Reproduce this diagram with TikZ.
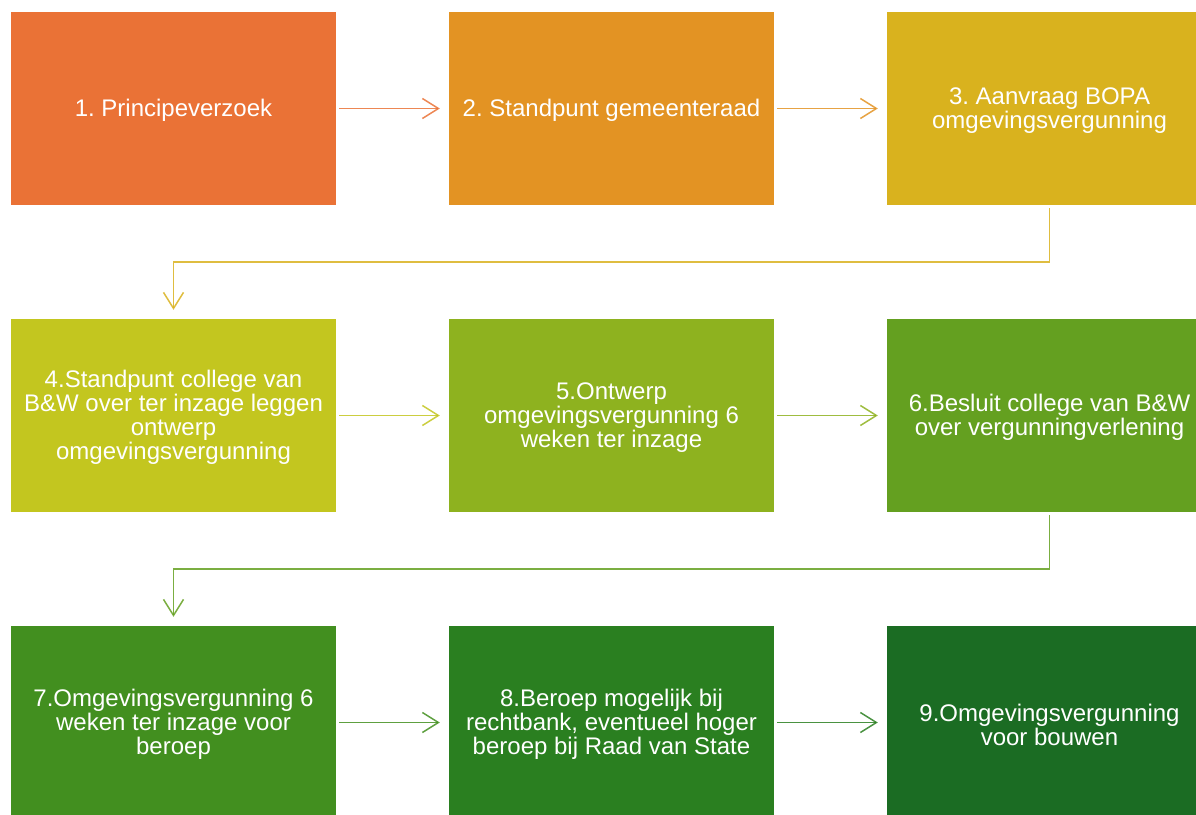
\documentclass[tikz,border=0pt]{standalone}
\usepackage{fontspec}
\setmainfont{Liberation Sans}
\usetikzlibrary{arrows.meta}
\frenchspacing
\definecolor{cA}{HTML}{EA7236}
\definecolor{cB}{HTML}{E39323}
\definecolor{cC}{HTML}{D9B21E}
\definecolor{cD}{HTML}{C3C61F}
\definecolor{cE}{HTML}{8EB21F}
\definecolor{cF}{HTML}{64A020}
\definecolor{cG}{HTML}{428F1F}
\definecolor{cH}{HTML}{2A7F20}
\definecolor{cI}{HTML}{1B6C23}
\newcommand\dnstrut{\rule{0pt}{21.7pt}}
\tikzset{
  stepbox/.style={fill=#1, draw=none, minimum width=325pt, minimum height=193pt,
    inner sep=0pt, text=white, align=center,
    font=\fontsize{24}{24}\selectfont\frenchspacing},
  flowarr/.style={draw=#1, draw opacity=0.85, line width=1.5pt,
    -{Straight Barb[length=16pt,width=20pt,line width=1.5pt]}}
}
\begin{document}
\begin{tikzpicture}[x=1pt,y=-1pt]
\useasboundingbox (0,0) rectangle (1196,814);
\clip (0,0) rectangle (1196,814);
\node[stepbox=cA] (b1) at (173.5,108.5) {\dnstrut 1. Principeverzoek};
\node[stepbox=cB] (b2) at (611.5,108.5) {\dnstrut 2. Standpunt gemeenteraad};
\node[stepbox=cC] (b3) at (1049.5,108.5) {\dnstrut 3. Aanvraag BOPA\\omgevingsvergunning};
\node[stepbox=cD] (b4) at (173.5,415.5) {\dnstrut 4.Standpunt college van\\B\&W over ter inzage leggen\\ontwerp\\omgevingsvergunning};
\node[stepbox=cE] (b5) at (611.5,415.5) {\dnstrut 5.Ontwerp\\omgevingsvergunning 6\\weken ter inzage};
\node[stepbox=cF] (b6) at (1049.5,415.5) {\dnstrut 6.Besluit college van B\&W\\over vergunningverlening};
\node[stepbox=cG] (b7) at (173.5,722.5) {\dnstrut 7.Omgevingsvergunning 6\\weken ter inzage voor\\beroep};
\node[stepbox=cH] (b8) at (611.5,722.5) {\dnstrut 8.Beroep mogelijk bij\\rechtbank, eventueel hoger\\beroep bij Raad van State};
\node[stepbox=cI] (b9) at (1049.5,722.5) {\dnstrut 9.Omgevingsvergunning\\voor bouwen};
\draw[flowarr=cA] ([xshift=3pt]b1.east) -- ([xshift=-9pt]b2.west);
\draw[flowarr=cB] ([xshift=3pt]b2.east) -- ([xshift=-9pt]b3.west);
\draw[flowarr=cC] ([yshift=-3pt]b3.south) -- ++(0,-54pt) -| ([yshift=9pt]b4.north);
\draw[flowarr=cD] ([xshift=3pt]b4.east) -- ([xshift=-9pt]b5.west);
\draw[flowarr=cE] ([xshift=3pt]b5.east) -- ([xshift=-9pt]b6.west);
\draw[flowarr=cF] ([yshift=-3pt]b6.south) -- ++(0,-54pt) -| ([yshift=9pt]b7.north);
\draw[flowarr=cG] ([xshift=3pt]b7.east) -- ([xshift=-9pt]b8.west);
\draw[flowarr=cH] ([xshift=3pt]b8.east) -- ([xshift=-9pt]b9.west);
\end{tikzpicture}
\end{document}
